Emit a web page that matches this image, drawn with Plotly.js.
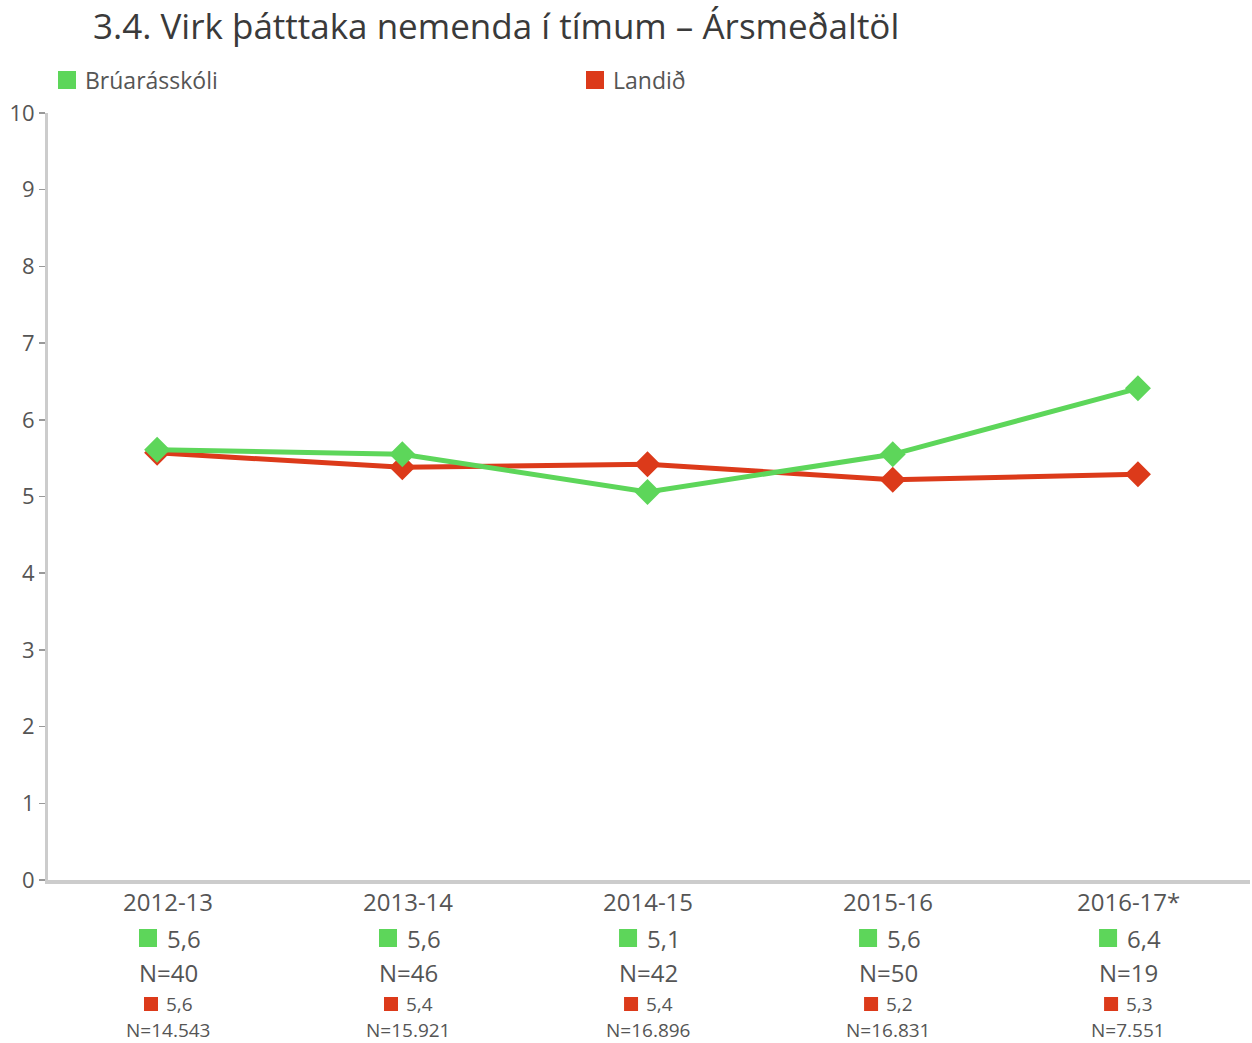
<!DOCTYPE html>
<html>
<head>
<meta charset="utf-8">
<script src="https://cdn.plot.ly/plotly-3.0.1.min.js"></script>
<style>html,body{margin:0;padding:0;background:#fff;}</style>
</head>
<body>
<div id="chart" style="width:1252px;height:1043px;"></div>
<script>
const categories = ["2012-13", "2013-14", "2014-15", "2015-16", "2016-17*"];
const schoolName = "Brúarásskóli";
const nationName = "Landið";
const schoolValues = [5.61, 5.55, 5.06, 5.55, 6.41];
const nationValues = [5.57, 5.38, 5.42, 5.22, 5.29];
const schoolLabels = ["5,6", "5,6", "5,1", "5,6", "6,4"];
const schoolN = ["N=40", "N=46", "N=42", "N=50", "N=19"];
const nationLabels = ["5,6", "5,4", "5,4", "5,2", "5,3"];
const nationN = ["N=14.543", "N=15.921", "N=16.896", "N=16.831", "N=7.551"];
const yTicks = [0, 1, 2, 3, 4, 5, 6, 7, 8, 9, 10];
const titleText = "3.4. Virk þátttaka nemenda í tímum – Ársmeðaltöl";

const GREEN = "#5dd65a";
const RED = "#dc3a1a";
const FONT = "Open Sans, sans-serif";
const TXT = "#555555";

const traces = [
  {x: categories, y: categories.map(() => null), xaxis: "x2", type: "scatter", mode: "markers",
   showlegend: false, hoverinfo: "skip"},
  {x: categories, y: nationValues, type: "scatter", mode: "lines+markers", name: nationName,
   line: {color: RED, width: 5}, marker: {symbol: "diamond", size: 20, color: RED},
   cliponaxis: false, showlegend: false, hoverinfo: "x+y"},
  {x: categories, y: schoolValues, type: "scatter", mode: "lines+markers", name: schoolName,
   line: {color: GREEN, width: 5}, marker: {symbol: "diamond", size: 20, color: GREEN},
   cliponaxis: false, showlegend: false, hoverinfo: "x+y"}
];

const annotations = [];
const shapes = [];
const rowY = [21, 58, 92, 124, 150]; // pixel offsets below the x axis
categories.forEach((c, i) => {
  annotations.push({xref: "x2", yref: "paper", x: c, y: 0, yanchor: "middle", yshift: -rowY[0],
    text: c, showarrow: false, font: {family: FONT, size: 24, color: TXT}});
  annotations.push({xref: "x2", yref: "paper", x: c, y: 0, xanchor: "left", yanchor: "middle", xshift: -3, yshift: -rowY[1],
    text: schoolLabels[i], showarrow: false, font: {family: FONT, size: 24, color: TXT}});
  annotations.push({xref: "x2", yref: "paper", x: c, y: 0, yanchor: "middle", yshift: -rowY[2],
    text: schoolN[i], showarrow: false, font: {family: FONT, size: 24, color: TXT}});
  annotations.push({xref: "x2", yref: "paper", x: c, y: 0, xanchor: "left", yanchor: "middle", xshift: -4, yshift: -rowY[3],
    text: nationLabels[i], showarrow: false, font: {family: FONT, size: 19, color: TXT}});
  annotations.push({xref: "x2", yref: "paper", x: c, y: 0, yanchor: "middle", yshift: -rowY[4],
    text: nationN[i], showarrow: false, font: {family: FONT, size: 19, color: TXT}});
  shapes.push({type: "rect", xref: "x2", yref: "paper", xsizemode: "pixel", ysizemode: "pixel",
    xanchor: c, yanchor: 0, x0: -29, x1: -11, y0: -rowY[1] - 9, y1: -rowY[1] + 9,
    fillcolor: GREEN, line: {width: 0}});
  shapes.push({type: "rect", xref: "x2", yref: "paper", xsizemode: "pixel", ysizemode: "pixel",
    xanchor: c, yanchor: 0, x0: -24, x1: -10, y0: -rowY[3] - 7, y1: -rowY[3] + 7,
    fillcolor: RED, line: {width: 0}});
});

// legend
const legendItems = [[schoolName, GREEN, 58], [nationName, RED, 586]];
legendItems.forEach(([name, col, px]) => {
  shapes.push({type: "rect", xref: "paper", yref: "paper", xsizemode: "pixel", ysizemode: "pixel",
    xanchor: (px - 48) / 1202, yanchor: 1, x0: 0, x1: 18, y0: 24, y1: 42,
    fillcolor: col, line: {width: 0}});
  annotations.push({xref: "paper", yref: "paper", x: (px - 48) / 1202, y: 1, xanchor: "left", yanchor: "middle",
    xshift: 25, yshift: 33, text: name, showarrow: false, font: {family: FONT, size: 23, color: TXT}});
});

const layout = {
  width: 1252, height: 1043,
  margin: {l: 48, r: 2, t: 113, b: 163},
  paper_bgcolor: "#ffffff", plot_bgcolor: "#ffffff",
  title: {text: titleText, x: 93 / 1252, xanchor: "left", xref: "container",
    y: 1 - 27 / 1043, yanchor: "middle", yref: "container",
    font: {family: FONT, size: 35, color: "#3a3a3a"}},
  xaxis: {type: "category", range: [-0.445, 4.457], showgrid: false, zeroline: false,
    showticklabels: false, ticks: "", showline: true, linecolor: "#cccccc", linewidth: 4, fixedrange: true},
  xaxis2: {type: "category", overlaying: "x", range: [-0.5, 4.508], showgrid: false, zeroline: false,
    showticklabels: false, ticks: "", showline: false, fixedrange: true},
  yaxis: {range: [0, 10], tickvals: yTicks, ticktext: yTicks.map(String), showgrid: false, zeroline: false,
    showline: true, linecolor: "#cccccc", linewidth: 3, ticks: "outside", ticklen: 6, tickwidth: 1.5,
    tickcolor: "#999999", tickfont: {family: FONT, size: 22, color: TXT}, fixedrange: true},
  showlegend: false,
  annotations: annotations,
  shapes: shapes
};

Plotly.newPlot("chart", traces, layout, {displayModeBar: false, staticPlot: true});
</script>
</body>
</html>
